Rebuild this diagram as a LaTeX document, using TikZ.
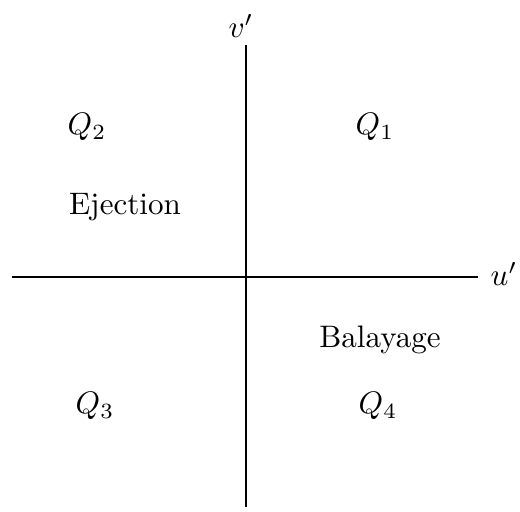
\documentclass[tikz,border=0pt]{standalone}
\usepackage{amsmath}
\usetikzlibrary{positioning}

\begin{document}
\begin{tikzpicture}[
    x=0.0113cm, y=-0.0113cm,
    axis/.style={semithick, color=black},
    quad/.style={inner sep=1pt},
]
\useasboundingbox (0,0) rectangle (520,511);

% Axes
\coordinate (uL) at (12,277);
\coordinate (uR) at (478,277);
\coordinate (vB) at (246,507);
\coordinate (vT) at (246,45);
\draw[axis] (uL) -- (uR);
\draw[axis] (vB) -- (vT);
\node[quad] (ulab) at (504,274) {$u'$};
\node[quad] (vlab) at (241,26) {$v'$};

% Quadrants
\node[quad] (q1) at (375,127) {$Q_1$};
\node[quad] (q2) at (87,127) {$Q_2$};
\node[quad] (q3) at (95,406) {$Q_3$};
\node[quad] (q4) at (378,406) {$Q_4$};

% Events
\node[quad] (eject) at (125,207) {Ejection};
\node[quad] (balay) at (380,340) {Balayage};

\end{tikzpicture}
\end{document}
